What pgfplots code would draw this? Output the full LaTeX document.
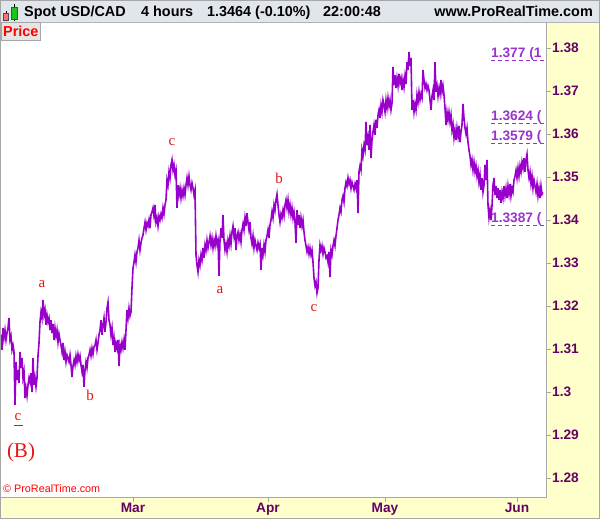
\documentclass[border=0pt]{standalone}
\usepackage{fontspec}
\setmainfont{Liberation Sans}
\newfontfamily\wavefont{Liberation Serif}
\usepackage{pgfplots}
\pgfplotsset{compat=1.18}

\definecolor{panel}{RGB}{255,255,204}
\definecolor{headbg}{RGB}{224,230,236}
\definecolor{pline}{RGB}{153,0,204}
\definecolor{labcol}{RGB}{102,0,102}
\definecolor{levcol}{RGB}{153,51,204}
\definecolor{pricebox}{RGB}{255,204,0}
\definecolor{wavered}{RGB}{230,20,20}

\tikzset{levline/.style={levcol, line width=0.9pt, dash pattern=on 4pt off 3pt},
         levtext/.style={anchor=base west, inner sep=0pt, yshift=3pt, text=levcol, font=\bfseries\fontsize{13.7}{14}\selectfont}}

\begin{document}
\begin{tikzpicture}[x=1pt,y=1pt]
\useasboundingbox (0,0) rectangle (600,519);
\fill[panel] (0,0) rectangle (600,519);
\fill[headbg] (0,497) rectangle (600,519);

\begin{axis}[
  at={(0pt,22pt)}, anchor=south west,
  scale only axis, width=546pt, height=475pt,
  xmin=0, xmax=546, ymin=1.27558, ymax=1.38605,
  axis background/.style={fill=white},
  axis line style={draw=black!35, line width=0.8pt},
  xtick={133,268,385,517}, xticklabels={Mar,Apr,May,Jun},
  ytick={1.28,1.29,1.30,1.31,1.32,1.33,1.34,1.35,1.36,1.37,1.38},
  yticklabels={1.28,1.29,1.3,1.31,1.32,1.33,1.34,1.35,1.36,1.37,1.38},
  ytick pos=right, xtick pos=bottom,
  tick align=outside, major tick length=5pt,
  tick style={draw=black!35, line width=0.8pt},
  tick label style={font=\bfseries\fontsize{13.7}{14}\selectfont, text=labcol, inner sep=1pt},
]
\addplot[pline, line width=1.6pt] coordinates {
(0,1.3109) (1,1.3133) (2,1.3098) (3,1.3149) (4,1.3126) (5,1.3144) (6,1.3121) (7,1.3137) (8,1.3149) (9,1.3172)
(10,1.3121) (11,1.3130) (12,1.3098) (13,1.3109) (14,1.3093) (15,1.2970) (16,1.3070) (17,1.3028) (18,1.3051) (19,1.3021)
(20,1.3093) (21,1.3056) (22,1.3079) (23,1.3033) (24,1.3047) (25,1.2986) (26,1.3009) (27,1.2991) (28,1.3016) (29,1.3033)
(30,1.3023) (31,1.3044) (32,1.3000) (33,1.3079) (34,1.3016) (35,1.3033) (36,1.3012) (37,1.3033) (38,1.3084) (39,1.3114)
(40,1.3163) (41,1.3186) (42,1.3172) (43,1.3214) (44,1.3179) (45,1.3191) (46,1.3156) (47,1.3179) (48,1.3163) (49,1.3172)
(50,1.3144) (51,1.3167) (52,1.3137) (53,1.3158) (54,1.3121) (55,1.3149) (56,1.3130) (57,1.3144) (58,1.3116) (59,1.3135)
(60,1.3121) (61,1.3109) (62,1.3093) (63,1.3114) (64,1.3074) (65,1.3093) (66,1.3070) (67,1.3086) (68,1.3079) (69,1.3070)
(70,1.3086) (71,1.3063) (72,1.3035) (73,1.3060) (74,1.3074) (75,1.3063) (76,1.3084) (77,1.3070) (78,1.3088) (79,1.3074)
(80,1.3084) (81,1.3063) (82,1.3047) (83,1.3063) (84,1.3012) (85,1.3051) (86,1.3070) (87,1.3056) (88,1.3079) (89,1.3086)
(90,1.3098) (91,1.3084) (92,1.3102) (93,1.3088) (94,1.3105) (95,1.3109) (96,1.3121) (97,1.3098) (98,1.3114) (99,1.3133)
(100,1.3144) (101,1.3167) (102,1.3133) (103,1.3156) (104,1.3172) (105,1.3140) (106,1.3163) (107,1.3195) (108,1.3209) (109,1.3167)
(110,1.3156) (111,1.3133) (112,1.3149) (113,1.3109) (114,1.3126) (115,1.3093) (116,1.3114) (117,1.3102) (118,1.3121) (119,1.3060)
(120,1.3109) (121,1.3098) (122,1.3116) (123,1.3102) (124,1.3121) (125,1.3098) (126,1.3144) (127,1.3191) (128,1.3172) (129,1.3195)
(130,1.3177) (131,1.3186) (132,1.3242) (133,1.3288) (134,1.3302) (135,1.3319) (136,1.3302) (137,1.3326) (138,1.3335) (139,1.3353)
(140,1.3330) (141,1.3347) (142,1.3358) (143,1.3365) (144,1.3381) (145,1.3395) (146,1.3377) (147,1.3393) (148,1.3386) (149,1.3400)
(150,1.3381) (151,1.3412) (152,1.3419) (153,1.3428) (154,1.3409) (155,1.3435) (156,1.3395) (157,1.3405) (158,1.3386) (159,1.3409)
(160,1.3400) (161,1.3414) (162,1.3405) (163,1.3428) (164,1.3414) (165,1.3435) (166,1.3447) (167,1.3493) (168,1.3481) (169,1.3512)
(170,1.3498) (171,1.3528) (172,1.3540) (173,1.3516) (174,1.3528) (175,1.3505) (176,1.3516) (177,1.3428) (178,1.3481) (179,1.3458)
(180,1.3474) (181,1.3451) (182,1.3470) (183,1.3456) (184,1.3474) (185,1.3458) (186,1.3481) (187,1.3498) (188,1.3481) (189,1.3502)
(190,1.3481) (191,1.3470) (192,1.3486) (193,1.3474) (194,1.3458) (195,1.3470) (196,1.3319) (197,1.3295) (198,1.3279) (199,1.3307)
(200,1.3295) (201,1.3319) (202,1.3307) (203,1.3335) (204,1.3312) (205,1.3342) (206,1.3330) (207,1.3353) (208,1.3335) (209,1.3349)
(210,1.3363) (211,1.3342) (212,1.3358) (213,1.3335) (214,1.3353) (215,1.3340) (216,1.3363) (217,1.3344) (218,1.3353) (219,1.3270)
(220,1.3353) (221,1.3381) (222,1.3358) (223,1.3412) (224,1.3353) (225,1.3330) (226,1.3344) (227,1.3326) (228,1.3353) (229,1.3340)
(230,1.3363) (231,1.3344) (232,1.3372) (233,1.3386) (234,1.3363) (235,1.3381) (236,1.3330) (237,1.3363) (238,1.3372) (239,1.3353)
(240,1.3367) (241,1.3349) (242,1.3377) (243,1.3391) (244,1.3377) (245,1.3405) (246,1.3386) (247,1.3416) (248,1.3395) (249,1.3377)
(250,1.3395) (251,1.3358) (252,1.3344) (253,1.3363) (254,1.3335) (255,1.3353) (256,1.3340) (257,1.3330) (258,1.3347) (259,1.3335)
(260,1.3344) (261,1.3284) (262,1.3335) (263,1.3319) (264,1.3342) (265,1.3326) (266,1.3353) (267,1.3363) (268,1.3377) (269,1.3358)
(270,1.3388) (271,1.3400) (272,1.3419) (273,1.3405) (274,1.3435) (275,1.3423) (276,1.3447) (277,1.3460) (278,1.3435) (279,1.3412)
(280,1.3395) (281,1.3414) (282,1.3405) (283,1.3423) (284,1.3409) (285,1.3435) (286,1.3447) (287,1.3428) (288,1.3447) (289,1.3419)
(290,1.3435) (291,1.3412) (292,1.3428) (293,1.3405) (294,1.3419) (295,1.3395) (296,1.3347) (297,1.3423) (298,1.3388) (299,1.3412)
(300,1.3381) (301,1.3405) (302,1.3386) (303,1.3400) (304,1.3372) (305,1.3353) (306,1.3340) (307,1.3326) (308,1.3337) (309,1.3321)
(310,1.3335) (311,1.3319) (312,1.3330) (313,1.3302) (314,1.3265) (315,1.3247) (316,1.3256) (317,1.3230) (318,1.3242) (319,1.3307)
(320,1.3342) (321,1.3330) (322,1.3340) (323,1.3321) (324,1.3335) (325,1.3326) (326,1.3312) (327,1.3316) (328,1.3302) (329,1.3326)
(330,1.3267) (331,1.3330) (332,1.3319) (333,1.3340) (334,1.3353) (335,1.3340) (336,1.3363) (337,1.3381) (338,1.3400) (339,1.3412)
(340,1.3428) (341,1.3419) (342,1.3447) (343,1.3456) (344,1.3442) (345,1.3474) (346,1.3488) (347,1.3479) (348,1.3498) (349,1.3484)
(350,1.3493) (351,1.3474) (352,1.3488) (353,1.3479) (354,1.3470) (355,1.3484) (356,1.3474) (357,1.3493) (358,1.3416) (359,1.3512)
(360,1.3526) (361,1.3516) (362,1.3563) (363,1.3549) (364,1.3574) (365,1.3563) (366,1.3628) (367,1.3574) (368,1.3591) (369,1.3563)
(370,1.3621) (371,1.3544) (372,1.3586) (373,1.3605) (374,1.3621) (375,1.3598) (376,1.3633) (377,1.3614) (378,1.3644) (379,1.3656)
(380,1.3637) (381,1.3667) (382,1.3651) (383,1.3679) (384,1.3667) (385,1.3651) (386,1.3679) (387,1.3660) (388,1.3684) (389,1.3665)
(390,1.3679) (391,1.3656) (392,1.3672) (393,1.3756) (394,1.3714) (395,1.3737) (396,1.3707) (397,1.3730) (398,1.3712) (399,1.3740)
(400,1.3719) (401,1.3730) (402,1.3702) (403,1.3726) (404,1.3709) (405,1.3735) (406,1.3716) (407,1.3767) (408,1.3749) (409,1.3791)
(410,1.3758) (411,1.3777) (412,1.3656) (413,1.3679) (414,1.3651) (415,1.3670) (416,1.3656) (417,1.3691) (418,1.3674) (419,1.3698)
(420,1.3679) (421,1.3693) (422,1.3684) (423,1.3749) (424,1.3726) (425,1.3707) (426,1.3716) (427,1.3702) (428,1.3712) (429,1.3702)
(430,1.3679) (431,1.3656) (432,1.3688) (433,1.3702) (434,1.3679) (435,1.3767) (436,1.3698) (437,1.3712) (438,1.3688) (439,1.3707)
(440,1.3693) (441,1.3726) (442,1.3698) (443,1.3712) (444,1.3691) (445,1.3660) (446,1.3621) (447,1.3651) (448,1.3633) (449,1.3651)
(450,1.3628) (451,1.3644) (452,1.3609) (453,1.3623) (454,1.3591) (455,1.3609) (456,1.3586) (457,1.3614) (458,1.3595) (459,1.3619)
(460,1.3581) (461,1.3605) (462,1.3621) (463,1.3670) (464,1.3637) (465,1.3614) (466,1.3600) (467,1.3614) (468,1.3581) (469,1.3563)
(470,1.3549) (471,1.3528) (472,1.3540) (473,1.3516) (474,1.3535) (475,1.3512) (476,1.3526) (477,1.3502) (478,1.3516) (479,1.3488)
(480,1.3505) (481,1.3470) (482,1.3498) (483,1.3465) (484,1.3481) (485,1.3528) (486,1.3493) (487,1.3540) (488,1.3435) (489,1.3405)
(490,1.3423) (491,1.3400) (492,1.3433) (493,1.3481) (494,1.3498) (495,1.3458) (496,1.3479) (497,1.3451) (498,1.3474) (499,1.3447)
(500,1.3470) (501,1.3440) (502,1.3465) (503,1.3451) (504,1.3479) (505,1.3456) (506,1.3474) (507,1.3451) (508,1.3479) (509,1.3460)
(510,1.3484) (511,1.3456) (512,1.3474) (513,1.3465) (514,1.3493) (515,1.3502) (516,1.3516) (517,1.3498) (518,1.3521) (519,1.3502)
(520,1.3526) (521,1.3512) (522,1.3535) (523,1.3521) (524,1.3544) (525,1.3512) (526,1.3540) (527,1.3553) (528,1.3516) (529,1.3498)
(530,1.3512) (531,1.3484) (532,1.3502) (533,1.3474) (534,1.3493) (535,1.3479) (536,1.3465) (537,1.3484) (538,1.3456) (539,1.3474)
(540,1.3451) (541,1.3479) (542,1.3460) (543,1.3464)
};

% anchors for the retracement levels, drawn after the axis so they can be clipped
\coordinate (lvA) at (axis cs:491,1.377);
\coordinate (lvB) at (axis cs:491,1.3624);
\coordinate (lvC) at (axis cs:491,1.3579);
\coordinate (lvD) at (axis cs:491,1.3387);

% wave labels
\begin{scope}[every node/.style={text=wavered, font=\wavefont\fontsize{15}{16}\selectfont, inner sep=0pt}]
\node at (axis cs:18,1.2942) {c};
\node at (axis cs:42,1.3251) {a};
\node at (axis cs:90,1.2991) {b};
\node at (axis cs:172,1.3581) {c};
\node at (axis cs:220,1.3237) {a};
\node at (axis cs:279,1.3497) {b};
\node at (axis cs:314,1.3195) {c};
\node[font=\wavefont\fontsize{21}{22}\selectfont] at (axis cs:21,1.2860) {(B)};
\end{scope}
\draw[wavered, line width=0.9pt] (axis cs:14,1.2923) -- (axis cs:23,1.2923);

% last price marker
\draw[black!75, line width=1pt] (axis cs:546,1.3464) -- (axis cs:551,1.3464);
\node[fill=pricebox, draw=black!45, minimum width=47pt, minimum height=19pt, inner sep=0pt,
      font=\bfseries\fontsize{13.7}{14}\selectfont] at (axis cs:573.5,1.3464) {1.3464};
\end{axis}

\begin{scope}
\clip (0,22) rectangle (545,497);
\draw[levline] (lvA) -- ++(60,0);
\node[levtext] at (lvA) {1.377 (1};
\draw[levline] (lvB) -- ++(60,0);
\node[levtext] at (lvB) {1.3624 (};
\draw[levline] (lvC) -- ++(60,0);
\node[levtext] at (lvC) {1.3579 (};
\draw[levline] (lvD) -- ++(60,0);
\node[levtext] at (lvD) {1.3387 (};
\end{scope}

% header bar
\draw[black!30, line width=0.8pt] (0,497) -- (600,497);
\draw[black] (5.7,497.5) -- (5.7,508);
\filldraw[fill=red!55, draw=black!70, line width=0.5pt] (3,499) rectangle (8.5,506);
\draw[black] (14.5,498) -- (14.5,515);
\filldraw[fill=green!75!black!90, draw=black!70, line width=0.5pt] (11.5,500) rectangle (17.5,512);
\begin{scope}[every node/.style={anchor=base west, inner sep=0pt, font=\bfseries\fontsize{14.4}{16}\selectfont}]
\node at (24,502) {Spot USD/CAD};
\node at (141,502) {4 hours};
\node at (207,502) {1.3464 (-0.10\%)};
\node at (323,502) {22:00:48};
\node[anchor=base east] at (593,502) {www.ProRealTime.com};
\end{scope}

% price box and copyright
\filldraw[fill=black!10, draw=black!35] (1,479) rectangle (40,496.5);
\node[anchor=base west, inner sep=0pt, text=red, font=\bfseries\fontsize{14.4}{16}\selectfont] at (3,482) {Price};
\node[anchor=base west, inner sep=0pt, text=red, font=\fontsize{10.8}{12}\selectfont] at (3,26) {\textcopyright\ ProRealTime.com};

\draw[black!35, line width=1pt] (0.5,0.5) rectangle (599.5,518.5);
\end{tikzpicture}
\end{document}
